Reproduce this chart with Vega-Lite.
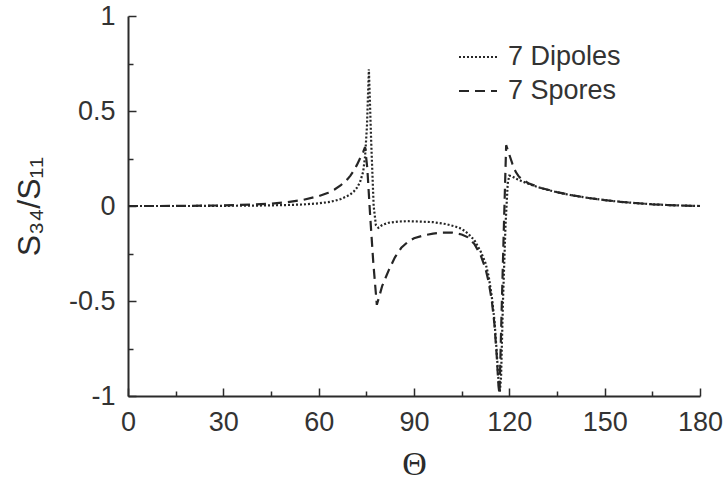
{
  "$schema": "https://vega.github.io/schema/vega-lite/v6.json",
  "width": 572,
  "height": 380,
  "autosize": {"type": "none"},
  "padding": {"left": 128, "top": 16, "right": 27, "bottom": 94},
  "background": "white",
  "config": {"view": {"stroke": null}, "font": "Liberation Sans"},
  "data": {"values": [
    {"t": 0, "v": 0, "s": "7 Dipoles"},
    {"t": 10, "v": 0, "s": "7 Dipoles"},
    {"t": 20, "v": 0, "s": "7 Dipoles"},
    {"t": 30, "v": 0.001, "s": "7 Dipoles"},
    {"t": 40, "v": 0.002, "s": "7 Dipoles"},
    {"t": 50, "v": 0.005, "s": "7 Dipoles"},
    {"t": 55, "v": 0.008, "s": "7 Dipoles"},
    {"t": 60, "v": 0.014, "s": "7 Dipoles"},
    {"t": 63, "v": 0.02, "s": "7 Dipoles"},
    {"t": 65, "v": 0.027, "s": "7 Dipoles"},
    {"t": 67, "v": 0.037, "s": "7 Dipoles"},
    {"t": 69, "v": 0.052, "s": "7 Dipoles"},
    {"t": 70, "v": 0.062, "s": "7 Dipoles"},
    {"t": 71, "v": 0.075, "s": "7 Dipoles"},
    {"t": 72, "v": 0.095, "s": "7 Dipoles"},
    {"t": 73, "v": 0.125, "s": "7 Dipoles"},
    {"t": 74, "v": 0.18, "s": "7 Dipoles"},
    {"t": 74.6, "v": 0.26, "s": "7 Dipoles"},
    {"t": 75.2, "v": 0.42, "s": "7 Dipoles"},
    {"t": 75.8, "v": 0.72, "s": "7 Dipoles"},
    {"t": 76.5, "v": 0.35, "s": "7 Dipoles"},
    {"t": 77.3, "v": 0.0, "s": "7 Dipoles"},
    {"t": 78, "v": -0.1, "s": "7 Dipoles"},
    {"t": 78.8, "v": -0.115, "s": "7 Dipoles"},
    {"t": 80, "v": -0.1, "s": "7 Dipoles"},
    {"t": 82, "v": -0.088, "s": "7 Dipoles"},
    {"t": 85, "v": -0.082, "s": "7 Dipoles"},
    {"t": 88, "v": -0.08, "s": "7 Dipoles"},
    {"t": 92, "v": -0.082, "s": "7 Dipoles"},
    {"t": 96, "v": -0.085, "s": "7 Dipoles"},
    {"t": 100, "v": -0.095, "s": "7 Dipoles"},
    {"t": 103, "v": -0.108, "s": "7 Dipoles"},
    {"t": 105, "v": -0.12, "s": "7 Dipoles"},
    {"t": 107, "v": -0.145, "s": "7 Dipoles"},
    {"t": 109, "v": -0.18, "s": "7 Dipoles"},
    {"t": 111, "v": -0.24, "s": "7 Dipoles"},
    {"t": 112.5, "v": -0.3, "s": "7 Dipoles"},
    {"t": 113.5, "v": -0.37, "s": "7 Dipoles"},
    {"t": 114.5, "v": -0.48, "s": "7 Dipoles"},
    {"t": 115.3, "v": -0.6, "s": "7 Dipoles"},
    {"t": 116, "v": -0.76, "s": "7 Dipoles"},
    {"t": 116.6, "v": -0.92, "s": "7 Dipoles"},
    {"t": 117, "v": -0.98, "s": "7 Dipoles"},
    {"t": 117.4, "v": -0.9, "s": "7 Dipoles"},
    {"t": 118, "v": -0.5, "s": "7 Dipoles"},
    {"t": 118.8, "v": -0.1, "s": "7 Dipoles"},
    {"t": 119.5, "v": 0.12, "s": "7 Dipoles"},
    {"t": 120, "v": 0.16, "s": "7 Dipoles"},
    {"t": 121, "v": 0.155, "s": "7 Dipoles"},
    {"t": 122, "v": 0.145, "s": "7 Dipoles"},
    {"t": 124, "v": 0.13, "s": "7 Dipoles"},
    {"t": 126, "v": 0.117, "s": "7 Dipoles"},
    {"t": 128, "v": 0.105, "s": "7 Dipoles"},
    {"t": 130, "v": 0.094, "s": "7 Dipoles"},
    {"t": 135, "v": 0.072, "s": "7 Dipoles"},
    {"t": 140, "v": 0.055, "s": "7 Dipoles"},
    {"t": 145, "v": 0.042, "s": "7 Dipoles"},
    {"t": 150, "v": 0.031, "s": "7 Dipoles"},
    {"t": 155, "v": 0.022, "s": "7 Dipoles"},
    {"t": 160, "v": 0.015, "s": "7 Dipoles"},
    {"t": 165, "v": 0.009, "s": "7 Dipoles"},
    {"t": 170, "v": 0.005, "s": "7 Dipoles"},
    {"t": 175, "v": 0.002, "s": "7 Dipoles"},
    {"t": 180, "v": 0, "s": "7 Dipoles"},

    {"t": 0, "v": 0, "s": "7 Spores"},
    {"t": 10, "v": 0, "s": "7 Spores"},
    {"t": 20, "v": 0.001, "s": "7 Spores"},
    {"t": 30, "v": 0.003, "s": "7 Spores"},
    {"t": 40, "v": 0.008, "s": "7 Spores"},
    {"t": 45, "v": 0.012, "s": "7 Spores"},
    {"t": 50, "v": 0.02, "s": "7 Spores"},
    {"t": 55, "v": 0.032, "s": "7 Spores"},
    {"t": 60, "v": 0.052, "s": "7 Spores"},
    {"t": 63, "v": 0.07, "s": "7 Spores"},
    {"t": 65, "v": 0.087, "s": "7 Spores"},
    {"t": 67, "v": 0.11, "s": "7 Spores"},
    {"t": 69, "v": 0.14, "s": "7 Spores"},
    {"t": 70, "v": 0.16, "s": "7 Spores"},
    {"t": 71, "v": 0.185, "s": "7 Spores"},
    {"t": 72, "v": 0.215, "s": "7 Spores"},
    {"t": 73, "v": 0.25, "s": "7 Spores"},
    {"t": 74, "v": 0.285, "s": "7 Spores"},
    {"t": 74.6, "v": 0.31, "s": "7 Spores"},
    {"t": 75.3, "v": 0.2, "s": "7 Spores"},
    {"t": 76.2, "v": -0.05, "s": "7 Spores"},
    {"t": 77.2, "v": -0.3, "s": "7 Spores"},
    {"t": 78.3, "v": -0.52, "s": "7 Spores"},
    {"t": 79, "v": -0.48, "s": "7 Spores"},
    {"t": 80, "v": -0.42, "s": "7 Spores"},
    {"t": 82, "v": -0.34, "s": "7 Spores"},
    {"t": 84, "v": -0.27, "s": "7 Spores"},
    {"t": 86, "v": -0.22, "s": "7 Spores"},
    {"t": 88, "v": -0.19, "s": "7 Spores"},
    {"t": 90, "v": -0.17, "s": "7 Spores"},
    {"t": 93, "v": -0.155, "s": "7 Spores"},
    {"t": 96, "v": -0.145, "s": "7 Spores"},
    {"t": 99, "v": -0.14, "s": "7 Spores"},
    {"t": 102, "v": -0.14, "s": "7 Spores"},
    {"t": 105, "v": -0.15, "s": "7 Spores"},
    {"t": 107, "v": -0.165, "s": "7 Spores"},
    {"t": 109, "v": -0.2, "s": "7 Spores"},
    {"t": 111, "v": -0.26, "s": "7 Spores"},
    {"t": 112.5, "v": -0.33, "s": "7 Spores"},
    {"t": 113.5, "v": -0.4, "s": "7 Spores"},
    {"t": 114.5, "v": -0.5, "s": "7 Spores"},
    {"t": 115.3, "v": -0.62, "s": "7 Spores"},
    {"t": 116, "v": -0.78, "s": "7 Spores"},
    {"t": 116.6, "v": -0.95, "s": "7 Spores"},
    {"t": 116.9, "v": -0.99, "s": "7 Spores"},
    {"t": 117.5, "v": -0.6, "s": "7 Spores"},
    {"t": 118.3, "v": -0.1, "s": "7 Spores"},
    {"t": 119, "v": 0.32, "s": "7 Spores"},
    {"t": 120, "v": 0.27, "s": "7 Spores"},
    {"t": 121, "v": 0.22, "s": "7 Spores"},
    {"t": 122, "v": 0.18, "s": "7 Spores"},
    {"t": 123, "v": 0.155, "s": "7 Spores"},
    {"t": 124, "v": 0.14, "s": "7 Spores"},
    {"t": 126, "v": 0.12, "s": "7 Spores"},
    {"t": 128, "v": 0.107, "s": "7 Spores"},
    {"t": 130, "v": 0.095, "s": "7 Spores"},
    {"t": 135, "v": 0.073, "s": "7 Spores"},
    {"t": 140, "v": 0.056, "s": "7 Spores"},
    {"t": 145, "v": 0.042, "s": "7 Spores"},
    {"t": 150, "v": 0.031, "s": "7 Spores"},
    {"t": 155, "v": 0.022, "s": "7 Spores"},
    {"t": 160, "v": 0.015, "s": "7 Spores"},
    {"t": 165, "v": 0.009, "s": "7 Spores"},
    {"t": 170, "v": 0.005, "s": "7 Spores"},
    {"t": 175, "v": 0.002, "s": "7 Spores"},
    {"t": 180, "v": 0, "s": "7 Spores"}
  ]},
  "mark": {"type": "line", "strokeWidth": 2.2, "color": "#262626"},
  "encoding": {
    "x": {
      "field": "t", "type": "quantitative",
      "scale": {"domain": [0, 180], "nice": false, "zero": false},
      "axis": {
        "title": "Θ",
        "titleFont": "Liberation Serif", "titleFontSize": 34, "titleFontWeight": "normal",
        "titleColor": "#2b2b2b", "titlePadding": 9,
        "values": [0, 15, 30, 45, 60, 75, 90, 105, 120, 135, 150, 165, 180],
        "labelExpr": "datum.value % 30 === 0 ? '' + datum.value : ''",
        "labelFontSize": 27, "labelColor": "#333", "labelPadding": 21,
        "labelFlush": false, "labelOverlap": false,
        "tickSize": {"condition": {"test": "datum.value % 30 === 0", "value": -8}, "value": -5},
        "tickColor": "#2b2b2b", "tickWidth": 1.5,
        "domainColor": "#2b2b2b", "domainWidth": 2,
        "grid": false
      }
    },
    "y": {
      "field": "v", "type": "quantitative",
      "scale": {"domain": [-1, 1], "nice": false},
      "axis": {
        "title": "S₃₄/S₁₁",
        "titleFont": "Liberation Sans", "titleFontSize": 32, "titleFontWeight": "normal",
        "titleColor": "#2b2b2b", "titlePadding": 22,
        "values": [-1, -0.75, -0.5, -0.25, 0, 0.25, 0.5, 0.75, 1],
        "labelExpr": "datum.value % 0.5 === 0 ? '' + datum.value : ''",
        "labelFontSize": 27, "labelColor": "#333", "labelPadding": 21,
        "labelFlush": false, "labelOverlap": false,
        "tickSize": {"condition": {"test": "datum.value % 0.5 === 0", "value": -8}, "value": -5},
        "tickColor": "#2b2b2b", "tickWidth": 1.5,
        "domainColor": "#2b2b2b", "domainWidth": 2,
        "grid": false
      }
    },
    "strokeDash": {
      "field": "s", "type": "nominal",
      "scale": {"domain": ["7 Dipoles", "7 Spores"], "range": [[2, 2], [10, 6]]},
      "legend": {
        "title": null, "orient": "none", "legendX": 330, "legendY": 21,
        "padding": 0, "symbolType": "stroke", "symbolSize": 1444,
        "symbolStrokeWidth": 2, "symbolStrokeColor": "#262626",
        "labelFontSize": 27, "labelColor": "#333", "labelOffset": 10,
        "rowPadding": 1
      }
    }
  }
}
